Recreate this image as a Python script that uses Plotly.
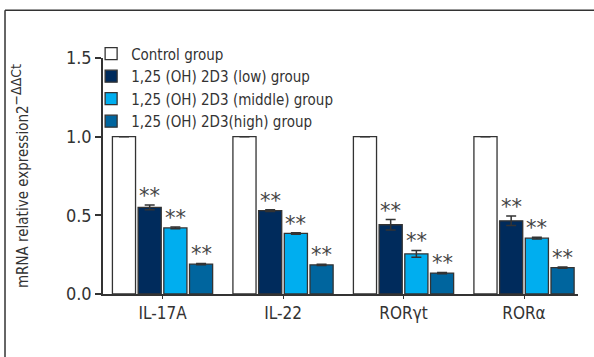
import plotly.graph_objects as go

# Relative mRNA expression (2^-ΔΔCt) per gene and treatment group
genes = ["IL-17A", "IL-22", "RORγt", "RORα"]
group_names = [
    "Control group",
    "1,25 (OH) 2D3 (low) group",
    "1,25 (OH) 2D3 (middle) group",
    "1,25 (OH) 2D3(high) group",
]
control = [1.0, 1.0, 1.0, 1.0]
low = [0.55, 0.53, 0.44, 0.465]
middle = [0.42, 0.385, 0.255, 0.355]
high = [0.19, 0.185, 0.133, 0.168]
control_err = [0.0, 0.0, 0.0, 0.0]
low_err = [0.015, 0.005, 0.033, 0.03]
middle_err = [0.006, 0.005, 0.022, 0.005]
high_err = [0.004, 0.004, 0.004, 0.004]
sig_label = "**"

series = [control, low, middle, high]
errors = [control_err, low_err, middle_err, high_err]
colors = ["#ffffff", "#002b5c", "#00aeef", "#00659e"]
significant = [False, True, True, True]

FONT = "Liberation Sans Narrow, DejaVu Sans Condensed, Arial Narrow, sans-serif"
INK = "#333333"

fig = go.Figure()
for name, vals, errs, col in zip(group_names, series, errors, colors):
    fig.add_trace(go.Bar(
        x=genes, y=vals, name=name,
        marker=dict(color=col, line=dict(color=INK, width=1.3)),
        error_y=dict(type="data", array=errs, visible=True,
                     color=INK, thickness=1.5, width=5),
    ))

# Significance marks above each treated bar, placed with the bar offsets
n = len(series)
bargap, bargroupgap = 0.147, 0.1
slot = (1 - bargap) / n
for k, (vals, errs, sig) in enumerate(zip(series, errors, significant)):
    if not sig:
        continue
    for i, (v, e) in enumerate(zip(vals, errs)):
        fig.add_annotation(
            x=i - (1 - bargap) / 2 + slot * (k + 0.5), y=v + e,
            xref="x", yref="y", text=sig_label, showarrow=False,
            yanchor="bottom", yshift=-5,
            font=dict(family="DejaVu Sans", size=21, color="#444444"),
        )

# Outer frame (top and left edges)
fig.add_shape(type="line", xref="paper", yref="paper",
              x0=-0.2063, x1=1.2, y0=1.2026, y1=1.2026,
              line=dict(color=INK, width=1.5))
fig.add_shape(type="line", xref="paper", yref="paper",
              x0=-0.2063, x1=-0.2063, y0=1.2026, y1=-0.4,
              line=dict(color=INK, width=1.5))

fig.update_layout(
    width=594, height=357,
    margin=dict(l=103, r=16, t=58, b=63),
    paper_bgcolor="white", plot_bgcolor="white",
    barmode="group", bargap=bargap, bargroupgap=bargroupgap,
    font=dict(family=FONT, color=INK),
    showlegend=True,
    legend=dict(x=-0.025, y=1.087, xanchor="left", yanchor="top",
                bgcolor="rgba(0,0,0,0)", font=dict(size=15, color=INK),
                tracegroupgap=0, itemwidth=30),
    xaxis=dict(
        range=[-0.494, 3.448], showline=True, linecolor=INK, linewidth=1.5,
        ticks="outside", ticklen=3, tickcolor=INK, tickwidth=1,
        tickfont=dict(size=17, color=INK), showgrid=False, zeroline=False,
    ),
    yaxis=dict(
        range=[0, 1.5], tickvals=[0, 0.5, 1.0, 1.5],
        ticktext=["0.0", "0.5", "1.0", "1.5"],
        showline=True, linecolor=INK, linewidth=1.5,
        ticks="outside", ticklen=6, tickcolor=INK, tickwidth=1.5,
        tickfont=dict(size=18, color=INK), showgrid=False, zeroline=False,
        title=dict(
            text='mRNA relative expression2<sup><span style="font-size:14px">'
                 '−ΔΔCt</span></sup>',
            font=dict(size=15, color=INK), standoff=34),
    ),
)

fig.write_html("out.html")
